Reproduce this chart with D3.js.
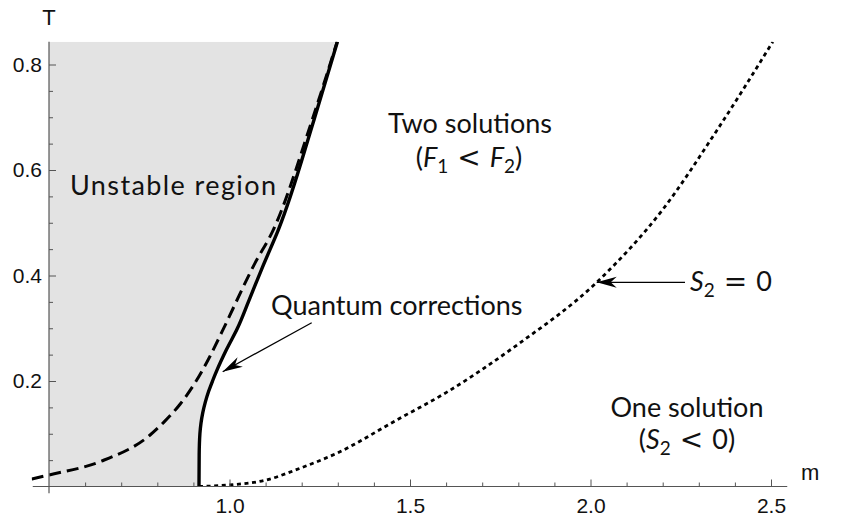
<!DOCTYPE html>
<html>
<head>
<meta charset="utf-8">
<script src="https://cdn.jsdelivr.net/npm/d3@7"></script>
<style>
  body { margin: 0; background: #fff; }
  svg { display: block; }
</style>
</head>
<body>
<svg id="chart" width="845" height="518"></svg>
<script>
// ---- data -------------------------------------------------------------
const massTicks  = [1.0, 1.5, 2.0, 2.5];
const massMinor  = [0.6, 0.7, 0.8, 0.9, 1.1, 1.2, 1.3, 1.4, 1.6, 1.7, 1.8, 1.9, 2.1, 2.2, 2.3, 2.4];
const tempTicks  = [0.2, 0.4, 0.6, 0.8];
const tempMinor  = [0.05, 0.1, 0.15, 0.25, 0.3, 0.35, 0.45, 0.5, 0.55, 0.65, 0.7, 0.75];

// stability boundary including quantum corrections (solid)
const quantumM = [0.9155, 0.916, 0.918, 0.921, 0.926, 0.933, 0.942, 0.953, 0.965, 0.992, 1.022, 1.054, 1.094, 1.135, 1.234, 1.299];
const quantumT = [0.000, 0.060, 0.100, 0.120, 0.140, 0.160, 0.180, 0.200, 0.220, 0.260, 0.300, 0.353, 0.420, 0.486, 0.695, 0.843];

// classical stability boundary (dashed)
const classicalM = [0.452, 0.500, 0.641, 0.780, 0.821, 0.863, 0.904, 0.946, 0.979, 1.071, 1.121, 1.229, 1.298];
const classicalT = [0.0142, 0.0218, 0.047, 0.0976, 0.124, 0.156, 0.196, 0.247, 0.293, 0.424, 0.486, 0.695, 0.843];

// S2 = 0 curve (dotted)
const s2M = [0.9155, 1.0, 1.1, 1.195, 1.3, 1.463, 1.6, 1.8, 2.017, 2.2, 2.35, 2.505];
const s2T = [0.000, 0.003, 0.012, 0.0345, 0.064, 0.126, 0.178, 0.270, 0.387, 0.525, 0.675, 0.843];

const mOrigin = 0.5;      // where the T axis crosses
const mLeft = 0.452;      // left edge of the plot range
const tTop = 0.843;       // top of the plot range

// ---- layout -----------------------------------------------------------
const svg = d3.select("#chart");
const x = d3.scaleLinear().domain([0.5, 2.5]).range([49, 771]);
const y = d3.scaleLinear().domain([0, 0.8]).range([486.5, 64.5]);

const tickFont = "'Liberation Sans', Arial, Helvetica, sans-serif";
const noteFont = "Lato, 'Open Sans', sans-serif";
const mathFont = "'DejaVu Sans', sans-serif";

const pts = (ms, ts) => ms.map((m, i) => ({ m, T: ts[i] }));
const quantum = pts(quantumM, quantumT);
const classical = pts(classicalM, classicalT);
const s2 = pts(s2M, s2T);

svg.append("defs").append("clipPath").attr("id", "plotClip")
  .append("rect")
  .attr("x", x(mLeft)).attr("y", y(tTop))
  .attr("width", x(2.6) - x(mLeft)).attr("height", y(0) - y(tTop));

const plot = svg.append("g").attr("clip-path", "url(#plotClip)");

// unstable (shaded) region: from the T axis to the quantum boundary
plot.append("path")
  .datum(quantum)
  .attr("fill", "#e3e3e3")
  .attr("d", d3.area()
    .y(d => y(d.T))
    .x0(x(mOrigin))
    .x1(d => x(d.m))
    .curve(d3.curveMonotoneY));

// ---- axes ---------------------------------------------------------------
const axisColor = "#555";

const xMajor = d3.axisBottom(x).tickValues(massTicks)
  .tickFormat(d3.format(".1f")).tickSize(-7).tickPadding(12);
const xMinorAxis = d3.axisBottom(x).tickValues(massMinor)
  .tickFormat("").tickSize(-4);
const yMajor = d3.axisLeft(y).tickValues(tempTicks)
  .tickFormat(d3.format(".1f")).tickSize(-7).tickPadding(7);
const yMinorAxis = d3.axisLeft(y).tickValues(tempMinor)
  .tickFormat("").tickSize(-4);

function styleAxis(g) {
  g.select(".domain").remove();
  g.selectAll(".tick line").attr("stroke", axisColor).attr("stroke-width", 1);
  g.selectAll(".tick text").attr("fill", "#111")
    .style("font-family", tickFont).style("font-size", "21px");
}

svg.append("g").attr("transform", `translate(0,${y(0)})`).call(xMinorAxis).call(styleAxis);
svg.append("g").attr("transform", `translate(0,${y(0)})`).call(xMajor).call(styleAxis);
svg.append("g").attr("transform", `translate(${x(mOrigin)},0)`).call(yMinorAxis).call(styleAxis);
svg.append("g").attr("transform", `translate(${x(mOrigin)},0)`).call(yMajor).call(styleAxis);

// axis lines (crossing at m = 0.5, T = 0)
svg.append("line")
  .attr("x1", x(0.455)).attr("x2", x(2.545))
  .attr("y1", y(0)).attr("y2", y(0))
  .attr("stroke", axisColor).attr("stroke-width", 1.2);
svg.append("line")
  .attr("x1", x(mOrigin)).attr("x2", x(mOrigin))
  .attr("y1", y(tTop)).attr("y2", y(-0.013))
  .attr("stroke", axisColor).attr("stroke-width", 1.2);

svg.append("text").text("T")
  .attr("x", x(mOrigin)).attr("y", 25).attr("text-anchor", "middle")
  .style("font-family", tickFont).style("font-size", "22px").attr("fill", "#111");
svg.append("text").text("m")
  .attr("x", 801).attr("y", 480)
  .style("font-family", tickFont).style("font-size", "22px").attr("fill", "#111");

// ---- curves -------------------------------------------------------------
plot.append("path").datum(classical)
  .attr("fill", "none").attr("stroke", "#000").attr("stroke-width", 3)
  .attr("stroke-dasharray", "12,6")
  .attr("d", d3.line().x(d => x(d.m)).y(d => y(d.T)).curve(d3.curveMonotoneX));

plot.append("path").datum(s2)
  .attr("fill", "none").attr("stroke", "#000").attr("stroke-width", 2.8)
  .attr("stroke-dasharray", "4,3.6")
  .attr("d", d3.line().x(d => x(d.m)).y(d => y(d.T)).curve(d3.curveMonotoneX));

plot.append("path").datum(quantum)
  .attr("fill", "none").attr("stroke", "#000").attr("stroke-width", 3.4)
  .attr("d", d3.line().x(d => x(d.m)).y(d => y(d.T)).curve(d3.curveMonotoneY));

// ---- annotations --------------------------------------------------------
function note(px, py, anchor) {
  return svg.append("text")
    .attr("x", px).attr("y", py).attr("text-anchor", anchor)
    .style("font-family", noteFont).style("font-size", "27px").attr("fill", "#111");
}
const italic = (t, s) => t.append("tspan").text(s).style("font-style", "italic");
const sub = (t, s) => t.append("tspan").text(s).attr("dy", 6).style("font-size", "19px");
const rel = (t, s) => t.append("tspan").text(s).attr("dy", -6).attr("dx", 9)
  .style("font-family", mathFont).style("font-size", "28px");
const plain = (t, s, dx) => t.append("tspan").text(s).attr("dx", dx || 0);

note(70, 195, "start").style("letter-spacing", "1.4px").text("Unstable region");
note(470, 133, "middle").text("Two solutions");
{
  const t = note(469, 167, "middle");
  plain(t, "(");
  italic(t, "F");
  sub(t, "1");
  rel(t, "<");
  italic(t, "F").attr("dx", 9);
  sub(t, "2");
  plain(t, ")").attr("dy", -6);
}
note(271, 315, "start").text("Quantum corrections");
{
  const t = note(690, 291, "start");
  italic(t, "S");
  sub(t, "2");
  rel(t, "=");
  plain(t, "0", 9);
}
note(687, 417, "middle").text("One solution");
{
  const t = note(687, 449, "middle");
  plain(t, "(");
  italic(t, "S");
  sub(t, "2");
  rel(t, "<");
  plain(t, "0)", 9);
}

// arrows
function arrow(x1, y1, x2, y2) {
  const g = svg.append("g");
  g.append("line").attr("x1", x1).attr("y1", y1).attr("x2", x2).attr("y2", y2)
    .attr("stroke", "#000").attr("stroke-width", 1.3);
  const ang = Math.atan2(y2 - y1, x2 - x1) * 180 / Math.PI;
  g.append("path")
    .attr("d", "M0,0 L-20,-5.5 L-14,0 L-20,5.5 Z")
    .attr("fill", "#000")
    .attr("transform", `translate(${x2},${y2}) rotate(${ang})`);
}
arrow(311.7, 322.7, 222.7, 371.7);
arrow(685, 282.3, 596.7, 282.3);
</script>
</body>
</html>
